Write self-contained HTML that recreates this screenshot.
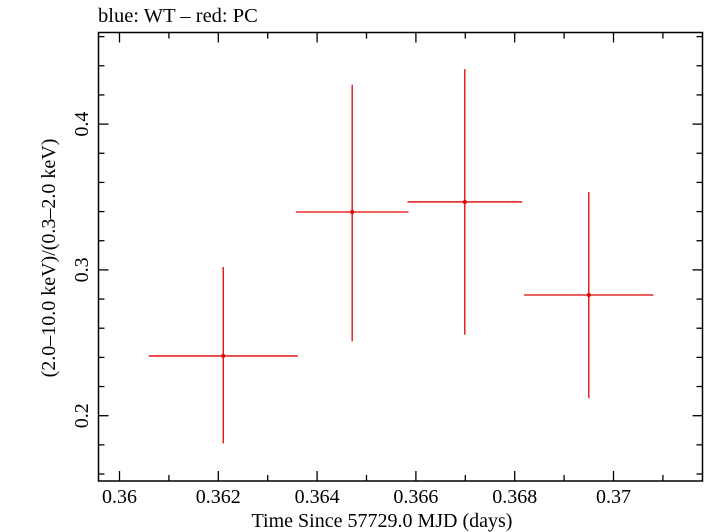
<!DOCTYPE html>
<html><head><meta charset="utf-8"><style>
body{margin:0;background:#fff;}
svg{display:block;font-family:"Liberation Serif",serif;}
</style></head><body>
<svg id="chart" width="705" height="532">
<text x="98" y="22" font-size="20.5">blue: WT – red: PC</text>
<rect x="98.5" y="32.5" width="604" height="448.5" fill="none" stroke="#000" stroke-width="1.5"/>
<g id="axes"></g>
<g id="marks"></g>
<text x="382" y="527" font-size="20" text-anchor="middle">Time Since 57729.0 MJD (days)</text>
<text transform="translate(55,258) rotate(-90)" font-size="20" text-anchor="middle">(2.0–10.0 keV)/(0.3–2.0 keV)</text>
</svg>
<script>
const times=[0.3621,0.36471,0.36699,0.3695];
const timeErr=[0.00151,0.00114,0.00116,0.00131];
const ratios=[0.241,0.3397,0.3466,0.2828];
const ratioHi=[0.302,0.427,0.4377,0.3535];
const ratioLo=[0.181,0.251,0.2555,0.212];
const xTickLabels=["0.36","0.362","0.364","0.366","0.368","0.37"];
const yTickLabels=["0.2","0.3","0.4"];
const NS="http://www.w3.org/2000/svg";
const L=98.5,R=702.5,T=32.5,B=481;
function sx(v){return 119.5+(v-0.36)*49400;}
function sy(v){return 415.7-(v-0.2)*1458;}
function mk(tag,at,parent){const e=document.createElementNS(NS,tag);for(const k in at)e.setAttribute(k,at[k]);parent.appendChild(e);return e;}
const ax=document.getElementById('axes'),mg=document.getElementById('marks');
for(let i=0;i<=12;i++){const v=0.36+i*0.001;const x=sx(v);if(x>R)break;const len=i%2==0?10:6;
 const t1=mk('line',{x1:x,x2:x,y1:B,y2:B-len,stroke:'#000','stroke-width':1.3},ax);
 
 const t2=mk('line',{x1:x,x2:x,y1:T,y2:T+len,stroke:'#000','stroke-width':1.3},ax);
 }
xTickLabels.forEach((s,i)=>{const t=mk('text',{x:sx(parseFloat(s)),y:503,'font-size':20,'text-anchor':'middle'},ax);t.textContent=s;
 });
for(let i=-3;i<=20;i++){const v=0.2+i*0.02;const y=sy(v);if(y>B||y<T)continue;const len=(i%5==0)?10:6;
 const t1=mk('line',{x1:L,x2:L+len,y1:y,y2:y,stroke:'#000','stroke-width':1.3},ax);
 
 const t2=mk('line',{x1:R,x2:R-len,y1:y,y2:y,stroke:'#000','stroke-width':1.3},ax);
 }
yTickLabels.forEach(s=>{const y=sy(parseFloat(s));const t=mk('text',{transform:`translate(88,${y}) rotate(-90)`,'font-size':20,'text-anchor':'middle'},ax);t.textContent=s;
 });
times.forEach((t,i)=>{
 const h=mk('line',{x1:sx(t-timeErr[i]),x2:sx(t+timeErr[i]),y1:sy(ratios[i]),y2:sy(ratios[i]),stroke:'#e00000','stroke-width':1.3},mg);
 
 const v=mk('line',{x1:sx(t),x2:sx(t),y1:sy(ratioHi[i]),y2:sy(ratioLo[i]),stroke:'#e00000','stroke-width':1.3},mg);
 
 const c=mk('circle',{cx:sx(t),cy:sy(ratios[i]),r:2,fill:'#e00000'},mg);
 
});
</script>
</body></html>
